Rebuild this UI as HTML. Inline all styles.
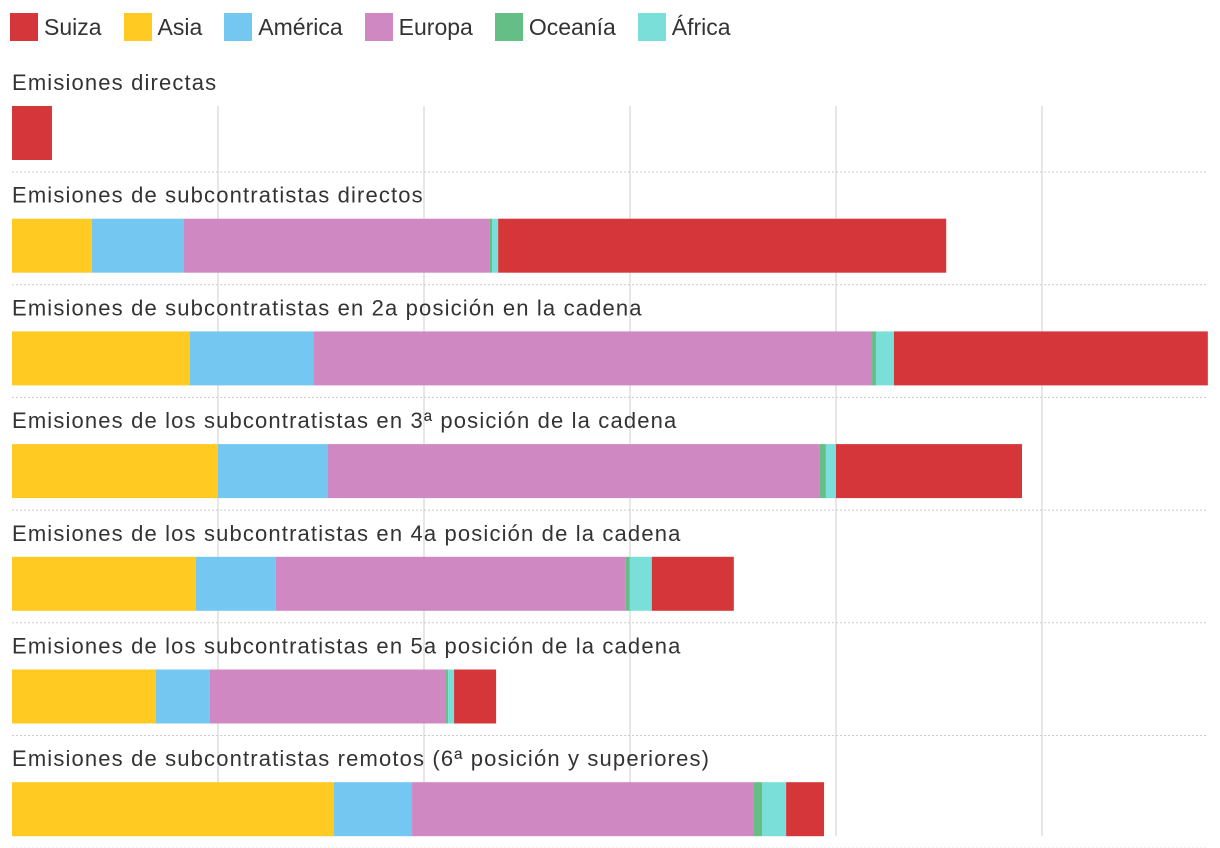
<!DOCTYPE html>
<html><head><meta charset="utf-8">
<style>
body{margin:0;background:#fff;width:1220px;height:848px;overflow:hidden;font-family:"Liberation Sans",sans-serif;color:#333}
#legend{position:absolute;left:10px;top:13px;display:flex;font-size:23px}
.li{display:flex;align-items:center;margin-right:22px}
.sw{width:28px;height:28px;margin-right:6px}
</style></head><body>
<div id="legend"></div>
<svg id="chart" width="1220" height="848" style="position:absolute;left:0;top:0"></svg>
<script>
const categories=["Emisiones directas","Emisiones de subcontratistas directos","Emisiones de subcontratistas en 2a posición en la cadena","Emisiones de los subcontratistas en 3ª posición de la cadena","Emisiones de los subcontratistas en 4a posición de la cadena","Emisiones de los subcontratistas en 5a posición de la cadena","Emisiones de subcontratistas remotos (6ª posición y superiores)"];
const seriesNames=["Asia","América","Europa","Oceanía","África","Suiza"];
const asia=[0,3.88,8.64,10,8.93,6.99,15.63];
const america=[0,4.47,6.02,5.34,3.88,2.62,3.79];
const europa=[0,14.85,27.09,23.88,16.99,11.46,16.6];
const oceania=[0,0.1,0.19,0.29,0.19,0.1,0.39];
const africa=[0,0.3,0.87,0.49,1.07,0.29,1.17];
const suiza=[1.94,21.75,15.24,9.03,3.98,2.04,1.84];
const gridTicks=[0,10,20,30,40,50];
const colors={"Suiza":"#d5363a","Asia":"#ffcb22","América":"#74c7f1","Europa":"#d088c3","Oceanía":"#64be86","África":"#7adfd8"};
const legendOrder=["Suiza","Asia","América","Europa","Oceanía","África"];
const series=[asia,america,europa,oceania,africa,suiza];
const NS="http://www.w3.org/2000/svg";
const svg=document.getElementById('chart');
const x=v=>12+v*20.6;
const rowTop=i=>106+i*112.7;
const lg=document.getElementById('legend');
legendOrder.forEach(n=>{const d=document.createElement('div');d.className='li';


d.innerHTML='<div class="sw" style="background:'+colors[n]+'"></div>'+n;lg.appendChild(d);});
gridTicks.forEach(t=>{if(t===0)return;const l=document.createElementNS(NS,'line');
l.setAttribute('x1',x(t));l.setAttribute('x2',x(t));l.setAttribute('y1',106);l.setAttribute('y2',836);
l.setAttribute('stroke','#ddd');l.setAttribute('stroke-width','1.5');


svg.appendChild(l);});
categories.forEach((c,i)=>{const y=rowTop(i);
const t=document.createElementNS(NS,'text');t.setAttribute('x',12);t.setAttribute('y',y-16);
t.setAttribute('font-size','22');t.setAttribute('fill','#333');t.setAttribute('letter-spacing','1.15');t.textContent=c;


svg.appendChild(t);
let acc=0;series.forEach((s,k)=>{const v=s[i];if(v>0){const r=document.createElementNS(NS,'rect');
r.setAttribute('x',x(acc));r.setAttribute('width',x(acc+v)-x(acc));r.setAttribute('y',y);r.setAttribute('height',54);
r.setAttribute('fill',colors[seriesNames[k]]);


svg.appendChild(r);}acc+=v;});
const d=document.createElementNS(NS,'line');d.setAttribute('x1',12);d.setAttribute('x2',1208);
d.setAttribute('y1',y+66);d.setAttribute('y2',y+66);d.setAttribute('stroke','#ccc');d.setAttribute('stroke-dasharray','2,2');


svg.appendChild(d);});
</script>
</body></html>
